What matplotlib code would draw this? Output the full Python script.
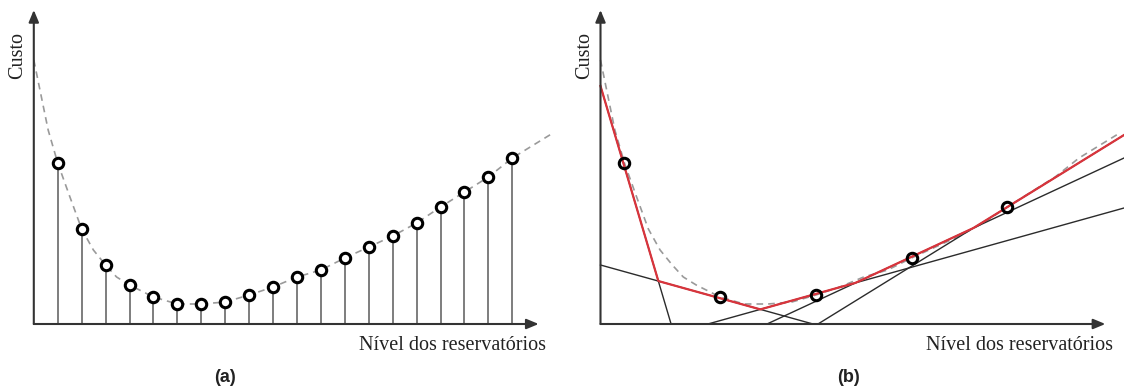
import numpy as np
from matplotlib import pyplot as plt


# Reservoir levels and their cost samples
levels = np.arange(1, 21)
costs = [16.1, 9.5, 5.9, 3.9, 2.7, 2.0, 2.0, 2.2, 2.9, 3.7,
         4.7, 5.4, 6.6, 7.7, 8.8, 10.1, 11.7, 13.2, 14.7, 16.6]

# Underlying cost curve (dashed)
curve_x = [0, 0.6, 1, 1.51, 2, 2.49, 3, 3.46, 4, 5, 6, 7, 8, 9, 10,
           11, 12, 13, 14, 15, 16, 17, 18, 19, 20, 21.7]
curve_y = [26.4, 19.4, 16.1, 12.7, 9.5, 7.4, 5.9, 4.7, 3.9, 2.7, 2.0, 2.0,
           2.2, 2.9, 3.7, 4.7, 5.4, 6.6, 7.7, 8.8, 10.1, 11.7, 13.2, 14.7,
           16.6, 19.1]

# Levels used for the cutting planes in (b)
cut_levels = [1, 5, 9, 13, 17]
# Each cut as a segment: (x0, y0, x1, y1)
cuts = [
    (0.0, 23.8, 2.95, 0.0),
    (0.0, 5.9, 8.88, 0.0),
    (4.49, 0.0, 21.88, 11.6),
    (6.96, 0.0, 21.88, 16.6),
    (9.09, 0.0, 21.88, 18.9),
]

XMAX = 21.9
YMAX = 31.4
AXIS_TIP = 21.1

axis_color = '#333333'
serif = ['Liberation Serif', 'DejaVu Serif']


def draw_axes(ax):
    ax.set_xlim(0, XMAX)
    ax.set_ylim(0, YMAX)
    ax.axis('off')
    head = '-|>,head_length=0.6,head_width=0.25'
    for tip in [(AXIS_TIP, 0), (0, YMAX)]:
        ax.annotate('', xy=tip, xytext=(0, 0),
                    arrowprops=dict(arrowstyle=head, color=axis_color, lw=1.5,
                                    shrinkA=0, shrinkB=0, mutation_scale=12),
                    annotation_clip=False, zorder=5)
    ax.text(AXIS_TIP + 0.3, -1.2, 'Nível dos reservatórios', ha='right', va='top',
            fontsize=14.5, family=serif, color='#222222')
    ax.text(-0.68, 26.8, 'Custo', rotation=90, ha='center', va='center',
            fontsize=14.5, family=serif, color='#222222')


def main():
    fig = plt.figure(figsize=(11.24, 3.90), dpi=100)
    ax_a = fig.add_axes([33.8 / 1124, 66 / 390, 524 / 1124, 314 / 390])
    ax_b = fig.add_axes([600.5 / 1124, 66 / 390, 524 / 1124, 314 / 390])

    # (a) sampled cost curve
    draw_axes(ax_a)
    ax_a.plot(curve_x, curve_y, ls=(0, (4, 3)), color='#9a9a9a', lw=1.2,
              clip_on=False, zorder=2)
    ax_a.vlines(levels, 0, costs, color='#5a5a5a', lw=1.1, zorder=3)
    ax_a.plot(levels, costs, 'o', ms=7.5, mfc='white', mec='black', mew=2.2,
              zorder=4)

    # (b) piecewise linear approximation by cuts
    draw_axes(ax_b)
    ax_b.plot(curve_x, curve_y, ls=(0, (4, 3)), color='#9a9a9a', lw=1.2,
              clip_on=False, zorder=2)
    for x0, y0, x1, y1 in cuts:
        ax_b.plot([x0, x1], [y0, y1], color='#2b2b2b', lw=1.0, zorder=3,
                  clip_on=False)

    # upper envelope of the cuts
    xs = np.linspace(0, 21.88, 400)
    lines = []
    for x0, y0, x1, y1 in cuts:
        slope = (y1 - y0) / (x1 - x0)
        lines.append(y0 + slope * (xs - x0))
    envelope = np.max(lines, axis=0)
    ax_b.plot(xs, envelope, color='#d9343c', lw=1.6, zorder=4, clip_on=False)

    cut_costs = [costs[i - 1] for i in cut_levels]
    ax_b.plot(cut_levels, cut_costs, 'o', ms=7.5, mfc='none', mec='black',
              mew=2.2, zorder=5)

    fig.text(225 / 1124, 1 - 377 / 390, '(a)', ha='center', va='center',
             fontsize=13, fontweight='bold', family='Liberation Sans',
             color='#222222')
    fig.text(848 / 1124, 1 - 377 / 390, '(b)', ha='center', va='center',
             fontsize=13, fontweight='bold', family='Liberation Sans',
             color='#222222')

    fig.savefig('out.png', dpi=100)
    plt.close(fig)


if __name__ == '__main__':
    main()
